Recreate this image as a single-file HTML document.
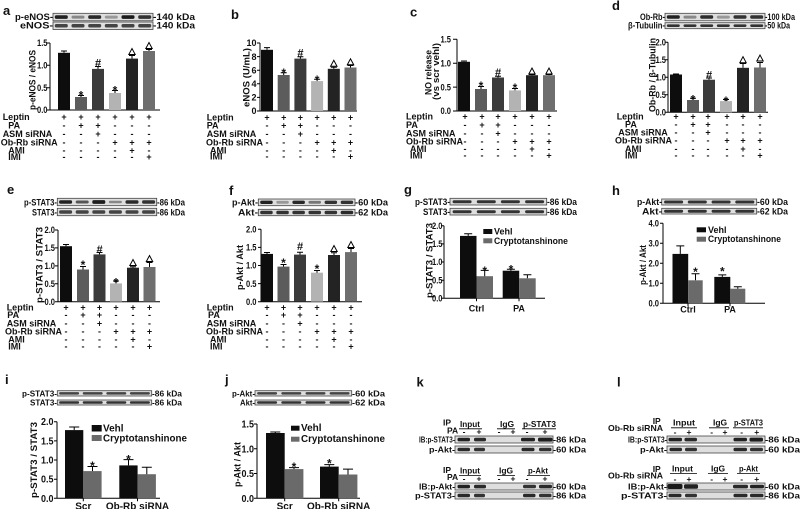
<!DOCTYPE html>
<html><head><meta charset="utf-8"><style>
html,body{margin:0;padding:0;background:#fff}
svg{display:block}
text{font-family:"Liberation Sans",Arial,sans-serif;font-weight:bold;font-size:9px;fill:#111}
.L{font-size:13px}
.e{text-anchor:end}
.m{text-anchor:middle}
.st{font-size:12px;text-anchor:middle}
.hs{font-size:11px;text-anchor:middle}
.yl{font-size:9.5px}
.b10{font-size:10px}
.s85{font-size:8.5px}
.bl{fill:#dedede;stroke:#444;stroke-width:.8}
.ax{stroke:#000;stroke-width:1;fill:none}
.er{stroke:#000;stroke-width:1;fill:none}
.tri{fill:#fff;stroke:#000;stroke-width:1}
.ul{stroke:#000;stroke-width:.8}
</style></head><body>
<svg width="800" height="509" viewBox="0 0 800 509" xmlns="http://www.w3.org/2000/svg">

<!-- ===== Panel a ===== -->
<text class="L" x="3" y="15">a</text>
<rect class="bl" x="53" y="13.3" width="100" height="7.5"/>
<rect class="bl" x="53" y="22" width="100" height="7.5"/>
<rect x="54.8" y="15.3" width="13" height="3.6" rx="1.5" fill="#222"/>
<rect x="71.5" y="15.6" width="13" height="3" rx="1.5" fill="#888"/>
<rect x="88.2" y="15.3" width="13" height="3.6" rx="1.5" fill="#2a2a2a"/>
<rect x="104.8" y="15.6" width="13" height="3" rx="1.5" fill="#999"/>
<rect x="121.5" y="15.3" width="13" height="3.6" rx="1.5" fill="#1a1a1a"/>
<rect x="138.2" y="15.3" width="13" height="3.6" rx="1.5" fill="#333"/>
<rect x="54.8" y="24" width="13" height="3.5" rx="1.5" fill="#444"/>
<rect x="71.5" y="24" width="13" height="3.5" rx="1.5" fill="#444"/>
<rect x="88.2" y="24" width="13" height="3.5" rx="1.5" fill="#444"/>
<rect x="104.8" y="24" width="13" height="3.5" rx="1.5" fill="#444"/>
<rect x="121.5" y="24" width="13" height="3.5" rx="1.5" fill="#444"/>
<rect x="138.2" y="24" width="13" height="3.5" rx="1.5" fill="#444"/>
<text x="15" y="20" textLength="38" lengthAdjust="spacingAndGlyphs">p-eNOS-</text>
<text x="20" y="28.5" textLength="33" lengthAdjust="spacingAndGlyphs">eNOS-</text>
<text x="153" y="20" textLength="42" lengthAdjust="spacingAndGlyphs">-140 kDa</text>
<text x="153" y="28.5" textLength="42" lengthAdjust="spacingAndGlyphs">-140 kDa</text>
<path class="ax" d="M50,43V110H160M47,43H50M47,65.3H50M47,87.7H50M47,110H50"/>
<text x="37" y="46.2" textLength="10.5" lengthAdjust="spacingAndGlyphs">1.5</text>
<text x="37" y="68.5" textLength="10.5" lengthAdjust="spacingAndGlyphs">1.0</text>
<text x="37" y="90.9" textLength="10.5" lengthAdjust="spacingAndGlyphs">0.5</text>
<text x="37" y="113.2" textLength="10.5" lengthAdjust="spacingAndGlyphs">0.0</text>
<rect x="58" y="52.8" width="12" height="57.2" fill="#0d0d0d"/>
<rect x="75" y="97" width="12" height="13" fill="#5c5c5c"/>
<rect x="92" y="68.9" width="12" height="41.1" fill="#3b3b3b"/>
<rect x="109" y="93" width="12" height="17" fill="#b3b3b3"/>
<rect x="126" y="58.6" width="12" height="51.4" fill="#232323"/>
<rect x="143" y="51" width="12" height="59" fill="#6e6e6e"/>
<path class="er" d="M64,52.8V51M61,51H67M81,97V95.5M78,95.5H84M98,68.9V66.5M95,66.5H101M115,93V90.5M112,90.5H118M132,58.6V55.5M129,55.5H135M149,51V49.5M146,49.5H152"/>
<text class="st" x="81" y="99.3">*</text>
<text class="hs" x="98" y="66.5">#</text>
<text class="st" x="115" y="94.3">*</text>
<polygon class="tri" points="128.8,54.5 135.2,54.5 132,48.5"/>
<polygon class="tri" points="145.8,48.5 152.2,48.5 149,42.5"/>
<text class="yl" transform="translate(35.5,110) rotate(-90)" textLength="60" lengthAdjust="spacingAndGlyphs">p-eNOS / eNOS</text>
<text x="2.7" y="120">Leptin</text>
<text x="8.3" y="128.5">PA</text>
<text x="2.7" y="137">ASM siRNA</text>
<text x="0.7" y="145.5">Ob-Rb siRNA</text>
<text x="8.3" y="153.5">AMI</text>
<text x="8.3" y="160">IMI</text>
<text class="m" x="64 81 98 115 132 149" y="120">++++++</text>
<text class="m" x="64 81 98 115 132 149" y="128.5">-++---</text>
<text class="m" x="64 81 98 115 132 149" y="137">--+---</text>
<text class="m" x="64 81 98 115 132 149" y="145.5">---+++</text>
<text class="m" x="64 81 98 115 132 149" y="153.5">----+-</text>
<text class="m" x="64 81 98 115 132 149" y="160">-----+</text>

<!-- ===== Panel b ===== -->
<text class="L" x="231" y="19">b</text>
<path class="ax" d="M260,43V111H357M257,43H260M257,56.6H260M257,70.2H260M257,83.8H260M257,97.4H260M257,111H260"/>
<text class="e" x="256.5" y="46.2">10</text>
<text class="e" x="256.5" y="59.8">8</text>
<text class="e" x="256.5" y="73.4">6</text>
<text class="e" x="256.5" y="87">4</text>
<text class="e" x="256.5" y="100.6">2</text>
<text class="e" x="256.5" y="114.2">0</text>
<rect x="261" y="49.8" width="12" height="61.2" fill="#0d0d0d"/>
<rect x="277.7" y="75" width="12" height="36" fill="#5c5c5c"/>
<rect x="294.4" y="58.6" width="12" height="52.4" fill="#3b3b3b"/>
<rect x="311.1" y="81.1" width="12" height="29.9" fill="#b3b3b3"/>
<rect x="327.8" y="68.8" width="12" height="42.2" fill="#232323"/>
<rect x="344.5" y="67.5" width="12" height="43.5" fill="#6e6e6e"/>
<path class="er" d="M267,49.8V47.6M264,47.6H270M283.7,75V72.8M280.7,72.8H286.7M300.4,58.6V56.8M297.4,56.8H303.4M317.1,81.1V79.2M314.1,79.2H320.1M333.8,68.8V67.3M330.8,67.3H336.8M350.5,67.5V65.5M347.5,65.5H353.5"/>
<text class="st" x="283.7" y="77">*</text>
<text class="hs" x="300.4" y="56.5">#</text>
<text class="st" x="317.1" y="84">*</text>
<polygon class="tri" points="330.6,66.3 337,66.3 333.8,60.3"/>
<polygon class="tri" points="347.3,64.8 353.7,64.8 350.5,58.8"/>
<text class="yl" transform="translate(249.5,107) rotate(-90)" textLength="59" lengthAdjust="spacingAndGlyphs">eNOS (U/mL)</text>
<text x="206.7" y="120.7">Leptin</text>
<text x="206.7" y="128.7">PA</text>
<text x="206.7" y="137">ASM siRNA</text>
<text x="206" y="145.7">Ob-Rb siRNA</text>
<text x="210" y="153.7">AMI</text>
<text x="210" y="159.7">IMI</text>
<text class="m" x="267 283.7 300.4 317.1 333.8 350.5" y="120.7">++++++</text>
<text class="m" x="267 283.7 300.4 317.1 333.8 350.5" y="128.7">-++---</text>
<text class="m" x="267 283.7 300.4 317.1 333.8 350.5" y="137">--+---</text>
<text class="m" x="267 283.7 300.4 317.1 333.8 350.5" y="145.7">---+++</text>
<text class="m" x="267 283.7 300.4 317.1 333.8 350.5" y="153.7">----+-</text>
<text class="m" x="267 283.7 300.4 317.1 333.8 350.5" y="159.7">-----+</text>

<!-- ===== Panel c ===== -->
<text class="L" x="410" y="16.7">c</text>
<path class="ax" d="M457,39.3V111H557M453,39.3H457M453,63.2H457M453,87.1H457M453,111H457"/>
<text x="440.5" y="42.5" textLength="10.5" lengthAdjust="spacingAndGlyphs">1.5</text>
<text x="440.5" y="66.4" textLength="10.5" lengthAdjust="spacingAndGlyphs">1.0</text>
<text x="440.5" y="90.3" textLength="10.5" lengthAdjust="spacingAndGlyphs">0.5</text>
<text x="440.5" y="114.2" textLength="10.5" lengthAdjust="spacingAndGlyphs">0.0</text>
<rect x="458" y="61.8" width="12" height="49.2" fill="#0d0d0d"/>
<rect x="475" y="89" width="12" height="22" fill="#5c5c5c"/>
<rect x="492" y="77.5" width="12" height="33.5" fill="#3b3b3b"/>
<rect x="509" y="90.4" width="12" height="20.6" fill="#b3b3b3"/>
<rect x="526" y="75.2" width="12" height="35.8" fill="#232323"/>
<rect x="543" y="75.2" width="12" height="35.8" fill="#6e6e6e"/>
<path class="er" d="M464,61.8V61M461,61H467M481,89V86.5M478,86.5H484M498,77.5V76.3M495,76.3H501M515,90.4V88.5M512,88.5H518M532,75.2V74.5M529,74.5H535M549,75.2V74.5M546,74.5H552"/>
<text class="st" x="481" y="89.8">*</text>
<text class="hs" x="498" y="76">#</text>
<text class="st" x="515" y="92">*</text>
<polygon class="tri" points="528.8,74 535.2,74 532,68"/>
<polygon class="tri" points="545.8,74 552.2,74 549,68"/>
<text class="yl" transform="translate(431.3,95) rotate(-90)" textLength="45" lengthAdjust="spacingAndGlyphs">NO release</text>
<text class="yl" transform="translate(439,100) rotate(-90)" textLength="57" lengthAdjust="spacingAndGlyphs">(vs scr vehl)</text>
<text x="406" y="119.7">Leptin</text>
<text x="406" y="128">PA</text>
<text x="406" y="136.3">ASM siRNA</text>
<text x="406" y="144.7">Ob-Rb siRNA</text>
<text x="410" y="152">AMI</text>
<text x="410" y="158.7">IMI</text>
<text class="m" x="465 482 498 515 532 549" y="119.7">++++++</text>
<text class="m" x="465 482 498 515 532 549" y="128">-++---</text>
<text class="m" x="465 482 498 515 532 549" y="136.3">--+---</text>
<text class="m" x="465 482 498 515 532 549" y="144.7">---+++</text>
<text class="m" x="465 482 498 515 532 549" y="152">----+-</text>
<text class="m" x="465 482 498 515 532 549" y="158.7">-----+</text>

<!-- ===== Panel d ===== -->
<text class="L" x="612" y="10">d</text>
<rect class="bl" x="665" y="13.3" width="100" height="7.5"/>
<rect class="bl" x="665" y="22.7" width="100" height="6"/>
<rect x="666.8" y="15.3" width="13" height="3.5" rx="1.5" fill="#222"/>
<rect x="683.5" y="15.6" width="13" height="3" rx="1.5" fill="#888"/>
<rect x="700.2" y="15.3" width="13" height="3.5" rx="1.5" fill="#2e2e2e"/>
<rect x="716.8" y="15.6" width="13" height="3" rx="1.5" fill="#999"/>
<rect x="733.5" y="15.3" width="13" height="3.5" rx="1.5" fill="#333"/>
<rect x="750.2" y="15.3" width="13" height="3.5" rx="1.5" fill="#333"/>
<rect x="666.8" y="24.4" width="13" height="2.6" rx="1.2" fill="#333"/>
<rect x="683.5" y="24.4" width="13" height="2.6" rx="1.2" fill="#333"/>
<rect x="700.2" y="24.4" width="13" height="2.6" rx="1.2" fill="#333"/>
<rect x="716.8" y="24.4" width="13" height="2.6" rx="1.2" fill="#333"/>
<rect x="733.5" y="24.4" width="13" height="2.6" rx="1.2" fill="#333"/>
<rect x="750.2" y="24.4" width="13" height="2.6" rx="1.2" fill="#333"/>
<text x="640" y="20" textLength="25" lengthAdjust="spacingAndGlyphs">Ob-Rb-</text>
<text x="628" y="28.5" textLength="37" lengthAdjust="spacingAndGlyphs">β-Tubulin-</text>
<text x="765" y="20" textLength="30" lengthAdjust="spacingAndGlyphs">-100 kDa</text>
<text x="765" y="28.5" textLength="25" lengthAdjust="spacingAndGlyphs">-50 kDa</text>
<path class="ax" d="M668,42.3V112.3H768M665,42.3H668M665,59.8H668M665,77.3H668M665,94.8H668M665,112.3H668"/>
<text x="655.5" y="45.5" textLength="10.5" lengthAdjust="spacingAndGlyphs">2.0</text>
<text x="655.5" y="63" textLength="10.5" lengthAdjust="spacingAndGlyphs">1.5</text>
<text x="655.5" y="80.5" textLength="10.5" lengthAdjust="spacingAndGlyphs">1.0</text>
<text x="655.5" y="98" textLength="10.5" lengthAdjust="spacingAndGlyphs">0.5</text>
<text x="655.5" y="115.5" textLength="10.5" lengthAdjust="spacingAndGlyphs">0.0</text>
<rect x="670" y="74.5" width="12" height="37.8" fill="#0d0d0d"/>
<rect x="687" y="100" width="12" height="12.3" fill="#5c5c5c"/>
<rect x="703" y="79.7" width="12" height="32.6" fill="#3b3b3b"/>
<rect x="720" y="101.1" width="12" height="11.2" fill="#b3b3b3"/>
<rect x="737" y="67.8" width="12" height="44.5" fill="#232323"/>
<rect x="754" y="67.5" width="12" height="44.8" fill="#6e6e6e"/>
<path class="er" d="M676,74.5V74M673,74H679M693,100V98.3M690,98.3H696M709,79.7V78M706,78H712M726,101.1V99.5M723,99.5H729M743,67.8V63.5M740,63.5H746M760,67.5V62.5M757,62.5H763"/>
<text class="st" x="693" y="103.7">*</text>
<text class="hs" x="709" y="78.3">#</text>
<text class="st" x="726" y="105">*</text>
<polygon class="tri" points="739.8,62.7 746.2,62.7 743,56.7"/>
<polygon class="tri" points="756.8,61 763.2,61 760,55"/>
<text class="yl" transform="translate(655.5,112) rotate(-90)" textLength="74" lengthAdjust="spacingAndGlyphs">Ob-Rb / β-Tubulin</text>
<text x="616.7" y="119.7">Leptin</text>
<text x="625" y="127.3">PA</text>
<text x="618.3" y="135.7">ASM siRNA</text>
<text x="615" y="143.7">Ob-Rb siRNA</text>
<text x="625" y="152">AMI</text>
<text x="625" y="158.7">IMI</text>
<text class="m" x="676 693 708 727 743 760" y="119.7">++++++</text>
<text class="m" x="676 693 708 727 743 760" y="127.3">-++---</text>
<text class="m" x="676 693 708 727 743 760" y="135.7">--+---</text>
<text class="m" x="676 693 708 727 743 760" y="143.7">---+++</text>
<text class="m" x="676 693 708 727 743 760" y="152">----+-</text>
<text class="m" x="676 693 708 727 743 760" y="158.7">-----+</text>

<!-- ===== Panel e ===== -->
<text class="L" x="7" y="194">e</text>
<rect class="bl" x="57.3" y="198.3" width="99.4" height="7.4"/>
<rect class="bl" x="57.3" y="208.3" width="99.4" height="7.4"/>
<rect x="59.1" y="200.3" width="13" height="3.4" rx="1.5" fill="#222"/>
<rect x="75.7" y="200.5" width="13" height="3" rx="1.5" fill="#555"/>
<rect x="92.3" y="200.1" width="13" height="3.8" rx="1.5" fill="#1e1e1e"/>
<rect x="108.9" y="200.7" width="13" height="2.6" rx="1.2" fill="#888"/>
<rect x="125.5" y="200.3" width="13" height="3.4" rx="1.5" fill="#2a2a2a"/>
<rect x="142.1" y="200.3" width="13" height="3.4" rx="1.5" fill="#333"/>
<rect x="59.1" y="210.3" width="13" height="3.4" rx="1.5" fill="#444"/>
<rect x="75.7" y="210.3" width="13" height="3.4" rx="1.5" fill="#444"/>
<rect x="92.3" y="210.3" width="13" height="3.4" rx="1.5" fill="#444"/>
<rect x="108.9" y="210.3" width="13" height="3.4" rx="1.5" fill="#444"/>
<rect x="125.5" y="210.3" width="13" height="3.4" rx="1.5" fill="#444"/>
<rect x="142.1" y="210.3" width="13" height="3.4" rx="1.5" fill="#444"/>
<text x="24" y="205.3" textLength="33" lengthAdjust="spacingAndGlyphs">p-STAT3-</text>
<text x="32" y="215.3" textLength="25" lengthAdjust="spacingAndGlyphs">STAT3-</text>
<text x="157" y="205.3" textLength="28" lengthAdjust="spacingAndGlyphs">-86 kDa</text>
<text x="157" y="215.3" textLength="28" lengthAdjust="spacingAndGlyphs">-86 kDa</text>
<path class="ax" d="M58,230V301.7H160M55,230H58M55,247.9H58M55,265.9H58M55,283.8H58M55,301.7H58"/>
<text x="44.5" y="233.2" textLength="10.5" lengthAdjust="spacingAndGlyphs">2.0</text>
<text x="44.5" y="251.1" textLength="10.5" lengthAdjust="spacingAndGlyphs">1.5</text>
<text x="44.5" y="269.1" textLength="10.5" lengthAdjust="spacingAndGlyphs">1.0</text>
<text x="44.5" y="287" textLength="10.5" lengthAdjust="spacingAndGlyphs">0.5</text>
<text x="44.5" y="304.9" textLength="10.5" lengthAdjust="spacingAndGlyphs">0.0</text>
<rect x="60" y="246.2" width="12" height="55.5" fill="#0d0d0d"/>
<rect x="77" y="269.5" width="12" height="32.2" fill="#5c5c5c"/>
<rect x="93.5" y="254.4" width="12" height="47.3" fill="#3b3b3b"/>
<rect x="110" y="283.4" width="12" height="18.3" fill="#b3b3b3"/>
<rect x="127" y="267.7" width="12" height="34" fill="#232323"/>
<rect x="143.5" y="267" width="12" height="34.7" fill="#6e6e6e"/>
<path class="er" d="M66,246.2V244.5M63,244.5H69M83,269.5V266.5M80,266.5H86M99.5,254.4V252.5M96.5,252.5H102.5M116,283.4V281M113,281H119M133,267.7V266.8M130,266.8H136M149.5,267V262.5M146.5,262.5H152.5"/>
<text class="st" x="83" y="269">*</text>
<text class="hs" x="99.5" y="252.8">#</text>
<text class="st" x="116" y="286.5">*</text>
<polygon class="tri" points="129.8,265.5 136.2,265.5 133,259.5"/>
<polygon class="tri" points="146.3,261.5 152.7,261.5 149.5,255.5"/>
<text class="yl" transform="translate(42.5,303) rotate(-90)" textLength="76" lengthAdjust="spacingAndGlyphs">p-STAT3 / STAT3</text>
<text x="6.7" y="310.7">Leptin</text>
<text x="7.3" y="318">PA</text>
<text x="6.7" y="326.3">ASM siRNA</text>
<text x="5" y="334.7">Ob-Rb siRNA</text>
<text x="8.3" y="342.3">AMI</text>
<text x="8.3" y="349.7">IMI</text>
<text class="m" x="66 83 99.5 116 133 149.5" y="310.7">++++++</text>
<text class="m" x="66 83 99.5 116 133 149.5" y="318">-++---</text>
<text class="m" x="66 83 99.5 116 133 149.5" y="326.3">--+---</text>
<text class="m" x="66 83 99.5 116 133 149.5" y="334.7">---+++</text>
<text class="m" x="66 83 99.5 116 133 149.5" y="342.3">----+-</text>
<text class="m" x="66 83 99.5 116 133 149.5" y="349.7">-----+</text>

<!-- ===== Panel f ===== -->
<text class="L" x="229" y="195">f</text>
<rect class="bl" x="258.3" y="199" width="96.7" height="6.7"/>
<rect class="bl" x="258.3" y="209.3" width="96.7" height="6.4"/>
<rect x="260.2" y="200.6" width="12.5" height="3.4" rx="1.5" fill="#222"/>
<rect x="276.3" y="200.9" width="12.5" height="2.8" rx="1.2" fill="#999"/>
<rect x="292.4" y="200.6" width="12.5" height="3.4" rx="1.5" fill="#2a2a2a"/>
<rect x="308.5" y="200.9" width="12.5" height="2.8" rx="1.2" fill="#777"/>
<rect x="324.6" y="200.6" width="12.5" height="3.4" rx="1.5" fill="#333"/>
<rect x="340.7" y="200.6" width="12.5" height="3.4" rx="1.5" fill="#333"/>
<rect x="260.2" y="210.8" width="12.5" height="3.4" rx="1.5" fill="#333"/>
<rect x="276.3" y="210.8" width="12.5" height="3.4" rx="1.5" fill="#333"/>
<rect x="292.4" y="210.8" width="12.5" height="3.4" rx="1.5" fill="#333"/>
<rect x="308.5" y="210.8" width="12.5" height="3.4" rx="1.5" fill="#333"/>
<rect x="324.6" y="210.8" width="12.5" height="3.4" rx="1.5" fill="#333"/>
<rect x="340.7" y="210.8" width="12.5" height="3.4" rx="1.5" fill="#2a2a2a"/>
<text x="232" y="205.5" textLength="26" lengthAdjust="spacingAndGlyphs">p-Akt-</text>
<text x="238" y="215.5" textLength="20" lengthAdjust="spacingAndGlyphs">Akt-</text>
<text x="355" y="205.5" textLength="33" lengthAdjust="spacingAndGlyphs">-60 kDa</text>
<text x="355" y="215.5" textLength="33" lengthAdjust="spacingAndGlyphs">-62 kDa</text>
<path class="ax" d="M261,229.3V301.7H362M258,229.3H261M258,247.4H261M258,265.5H261M258,283.6H261M258,301.7H261"/>
<text x="246" y="232.5" textLength="10.5" lengthAdjust="spacingAndGlyphs">2.0</text>
<text x="246" y="250.6" textLength="10.5" lengthAdjust="spacingAndGlyphs">1.5</text>
<text x="246" y="268.7" textLength="10.5" lengthAdjust="spacingAndGlyphs">1.0</text>
<text x="246" y="286.8" textLength="10.5" lengthAdjust="spacingAndGlyphs">0.5</text>
<text x="246" y="304.9" textLength="10.5" lengthAdjust="spacingAndGlyphs">0.0</text>
<rect x="261" y="253.9" width="12" height="47.8" fill="#0d0d0d"/>
<rect x="277.5" y="266.6" width="12" height="35.1" fill="#5c5c5c"/>
<rect x="294" y="254.6" width="12" height="47.1" fill="#3b3b3b"/>
<rect x="311" y="272.7" width="12" height="29" fill="#b3b3b3"/>
<rect x="328" y="255" width="12" height="46.7" fill="#232323"/>
<rect x="345" y="252.1" width="12" height="49.6" fill="#6e6e6e"/>
<path class="er" d="M267,253.9V252.5M264,252.5H270M283.5,266.6V264.5M280.5,264.5H286.5M300,254.6V252.3M297,252.3H303M317,272.7V270.5M314,270.5H320M334,255V252.8M331,252.8H337M351,252.1V248.5M348,248.5H354"/>
<text class="st" x="283.5" y="267">*</text>
<text class="hs" x="300" y="250">#</text>
<text class="st" x="317" y="273">*</text>
<polygon class="tri" points="330.8,251.5 337.2,251.5 334,245.5"/>
<polygon class="tri" points="347.8,247.5 354.2,247.5 351,241.5"/>
<text class="yl" transform="translate(243,290) rotate(-90)" textLength="45" lengthAdjust="spacingAndGlyphs">p-Akt / Akt</text>
<text x="206.7" y="310.7">Leptin</text>
<text x="208" y="318">PA</text>
<text x="206.7" y="326.3">ASM siRNA</text>
<text x="206" y="334.7">Ob-Rb siRNA</text>
<text x="210" y="342.3">AMI</text>
<text x="210" y="349.7">IMI</text>
<text class="m" x="267 283.5 300 317 334 351" y="310.7">++++++</text>
<text class="m" x="267 283.5 300 317 334 351" y="318">-++---</text>
<text class="m" x="267 283.5 300 317 334 351" y="326.3">--+---</text>
<text class="m" x="267 283.5 300 317 334 351" y="334.7">---+++</text>
<text class="m" x="267 283.5 300 317 334 351" y="342.3">----+-</text>
<text class="m" x="267 283.5 300 317 334 351" y="349.7">-----+</text>

<!-- ===== Panel g ===== -->
<text class="L" x="404" y="194">g</text>
<rect class="bl" x="450" y="198.3" width="96.7" height="6.7"/>
<rect class="bl" x="450" y="208.3" width="96.7" height="6.7"/>
<rect x="452.6" y="200.2" width="19" height="3" rx="1.4" fill="#333"/>
<rect x="476.8" y="200.2" width="19" height="3" rx="1.4" fill="#333"/>
<rect x="500.9" y="200.2" width="19" height="3" rx="1.4" fill="#333"/>
<rect x="525.1" y="200.2" width="19" height="3" rx="1.4" fill="#333"/>
<rect x="452.6" y="210.2" width="19" height="3" rx="1.4" fill="#333"/>
<rect x="476.8" y="210.2" width="19" height="3" rx="1.4" fill="#333"/>
<rect x="500.9" y="210.2" width="19" height="3" rx="1.4" fill="#333"/>
<rect x="525.1" y="210.2" width="19" height="3" rx="1.4" fill="#333"/>
<text x="415" y="205" textLength="35" lengthAdjust="spacingAndGlyphs">p-STAT3-</text>
<text x="423" y="215" textLength="27" lengthAdjust="spacingAndGlyphs">STAT3-</text>
<text x="547" y="205" textLength="30" lengthAdjust="spacingAndGlyphs">-86 kDa</text>
<text x="547" y="215" textLength="30" lengthAdjust="spacingAndGlyphs">-86 kDa</text>
<path class="ax" d="M444,225.7V298.3H545M441,225.7H444M441,243.9H444M441,262H444M441,280.2H444M441,298.3H444M476.5,298.3V301.3M519,298.3V301.3"/>
<text x="432" y="228.9" textLength="10.5" lengthAdjust="spacingAndGlyphs">2.0</text>
<text x="432" y="247.1" textLength="10.5" lengthAdjust="spacingAndGlyphs">1.5</text>
<text x="432" y="265.2" textLength="10.5" lengthAdjust="spacingAndGlyphs">1.0</text>
<text x="432" y="283.4" textLength="10.5" lengthAdjust="spacingAndGlyphs">0.5</text>
<text x="432" y="301.5" textLength="10.5" lengthAdjust="spacingAndGlyphs">0.0</text>
<rect x="460" y="235.9" width="16.5" height="62.4" fill="#0d0d0d"/>
<rect x="476.5" y="276.2" width="16.5" height="22.1" fill="#6a6a6a"/>
<rect x="502.7" y="270.7" width="16.5" height="27.6" fill="#0d0d0d"/>
<rect x="519.2" y="278.3" width="16.5" height="20" fill="#6a6a6a"/>
<path class="er" d="M468.2,235.9V233.7M464.2,233.7H472.2M484.7,276.2V270.4M480.7,270.4H488.7M510.9,270.7V269.3M506.9,269.3H514.9M527.4,278.3V274.7M523.4,274.7H531.4"/>
<text class="st" x="484.7" y="275.2">*</text>
<text class="st" x="510.9" y="273.7">*</text>
<rect x="483.3" y="229" width="9" height="5" fill="#0d0d0d"/>
<text x="494" y="234.5">Vehl</text>
<rect x="483.3" y="238.3" width="9" height="5" fill="#6a6a6a"/>
<text x="494" y="243.8" textLength="74" lengthAdjust="spacingAndGlyphs">Cryptotanshinone</text>
<text class="m" x="476.5" y="311.5">Ctrl</text>
<text class="m" x="519" y="311.5">PA</text>
<text class="yl" transform="translate(432.5,298) rotate(-90)" textLength="75" lengthAdjust="spacingAndGlyphs">p-STAT3 / STAT3</text>

<!-- ===== Panel h ===== -->
<text class="L" x="612" y="195">h</text>
<rect class="bl" x="661.7" y="199" width="95" height="6"/>
<rect class="bl" x="661.7" y="208.3" width="95" height="5.7"/>
<rect x="664.1" y="200.5" width="19" height="3" rx="1.4" fill="#333"/>
<rect x="687.8" y="200.5" width="19" height="3" rx="1.4" fill="#333"/>
<rect x="711.6" y="200.5" width="19" height="3" rx="1.4" fill="#333"/>
<rect x="735.3" y="200.5" width="19" height="3" rx="1.4" fill="#333"/>
<rect x="664.1" y="209.7" width="19" height="3" rx="1.4" fill="#333"/>
<rect x="687.8" y="209.7" width="19" height="3" rx="1.4" fill="#333"/>
<rect x="711.6" y="209.7" width="19" height="3" rx="1.4" fill="#333"/>
<rect x="735.3" y="209.7" width="19" height="3" rx="1.4" fill="#333"/>
<text x="637" y="205" textLength="25" lengthAdjust="spacingAndGlyphs">p-Akt-</text>
<text x="642" y="214.5" textLength="20" lengthAdjust="spacingAndGlyphs">Akt-</text>
<text x="757" y="205" textLength="31" lengthAdjust="spacingAndGlyphs">-60 kDa</text>
<text x="757" y="214.5" textLength="31" lengthAdjust="spacingAndGlyphs">-62 kDa</text>
<path class="ax" d="M663,223.3V303.3H765M660,223.3H663M660,243.3H663M660,263.3H663M660,283.3H663M660,303.3H663M688,303.3V306.3M730,303.3V306.3"/>
<text x="648.5" y="226.5" textLength="10.5" lengthAdjust="spacingAndGlyphs">4.0</text>
<text x="648.5" y="246.5" textLength="10.5" lengthAdjust="spacingAndGlyphs">3.0</text>
<text x="648.5" y="266.5" textLength="10.5" lengthAdjust="spacingAndGlyphs">2.0</text>
<text x="648.5" y="286.5" textLength="10.5" lengthAdjust="spacingAndGlyphs">1.0</text>
<text x="648.5" y="306.5" textLength="10.5" lengthAdjust="spacingAndGlyphs">0.0</text>
<rect x="672.5" y="253.9" width="15.7" height="49.4" fill="#0d0d0d"/>
<rect x="688.2" y="280.3" width="14.5" height="23" fill="#6a6a6a"/>
<rect x="714.3" y="276.9" width="16" height="26.4" fill="#0d0d0d"/>
<rect x="730.3" y="288.7" width="15" height="14.6" fill="#6a6a6a"/>
<path class="er" d="M680.3,253.9V245.9M676.3,245.9H684.3M695.5,280.3V273.7M691.5,273.7H699.5M722.3,276.9V274.9M718.3,274.9H726.3M737.8,288.7V286.7M733.8,286.7H741.8"/>
<text class="st" x="695.5" y="276">*</text>
<text class="st" x="722.3" y="275.3">*</text>
<rect x="696.7" y="227.3" width="9.3" height="5" fill="#0d0d0d"/>
<text x="708" y="233">Vehl</text>
<rect x="696.7" y="236.7" width="9.3" height="5" fill="#6a6a6a"/>
<text x="708" y="242.2" textLength="73" lengthAdjust="spacingAndGlyphs">Cryptotanshinone</text>
<text class="m" x="688" y="312.5">Ctrl</text>
<text class="m" x="730" y="312.5">PA</text>
<text class="yl" transform="translate(646,285) rotate(-90)" textLength="40" lengthAdjust="spacingAndGlyphs">p-Akt / Akt</text>

<!-- ===== Panel i ===== -->
<text class="L" x="5" y="384">i</text>
<rect class="bl" x="57.3" y="390.7" width="94.4" height="5.3"/>
<rect class="bl" x="57.3" y="400" width="94.4" height="5"/>
<rect x="59.1" y="392.1" width="20" height="2.5" rx="1.2" fill="#444"/>
<rect x="82.7" y="392.1" width="20" height="2.5" rx="1.2" fill="#444"/>
<rect x="106.3" y="392.1" width="20" height="2.5" rx="1.2" fill="#444"/>
<rect x="129.9" y="392.1" width="20" height="2.5" rx="1.2" fill="#444"/>
<rect x="59.1" y="401.3" width="20" height="2.5" rx="1.2" fill="#333"/>
<rect x="82.7" y="401.3" width="20" height="2.5" rx="1.2" fill="#333"/>
<rect x="106.3" y="401.3" width="20" height="2.5" rx="1.2" fill="#333"/>
<rect x="129.9" y="401.3" width="20" height="2.5" rx="1.2" fill="#333"/>
<text class="s85" x="22" y="396.3" textLength="35" lengthAdjust="spacingAndGlyphs">p-STAT3-</text>
<text class="s85" x="30" y="405.3" textLength="27" lengthAdjust="spacingAndGlyphs">STAT3-</text>
<text class="s85" x="152" y="396.3" textLength="30" lengthAdjust="spacingAndGlyphs">-86 kDa</text>
<text class="s85" x="152" y="405.3" textLength="30" lengthAdjust="spacingAndGlyphs">-86 kDa</text>
<path class="ax" d="M57,421.7V498.3H160M54,421.7H57M54,440.9H57M54,460H57M54,479.2H57M54,498.3H57M83.3,498.3V501.3M137.5,498.3V501.3"/>
<text class="b10" x="41" y="425.2" textLength="12.5" lengthAdjust="spacingAndGlyphs">2.0</text>
<text class="b10" x="41" y="444.4" textLength="12.5" lengthAdjust="spacingAndGlyphs">1.5</text>
<text class="b10" x="41" y="463.5" textLength="12.5" lengthAdjust="spacingAndGlyphs">1.0</text>
<text class="b10" x="41" y="482.7" textLength="12.5" lengthAdjust="spacingAndGlyphs">0.5</text>
<text class="b10" x="41" y="501.8" textLength="12.5" lengthAdjust="spacingAndGlyphs">0.0</text>
<rect x="65" y="430.1" width="18.3" height="68.2" fill="#0d0d0d"/>
<rect x="83.3" y="471.1" width="18.3" height="27.2" fill="#6a6a6a"/>
<rect x="119.3" y="465.4" width="18.3" height="32.9" fill="#0d0d0d"/>
<rect x="137.6" y="474.2" width="18.3" height="24.1" fill="#6a6a6a"/>
<path class="er" d="M74.2,430.1V427M69.2,427H79.2M92.5,471.1V466.5M87.5,466.5H97.5M128.5,465.4V459.6M123.5,459.6H133.5M146.8,474.2V467.3M141.8,467.3H151.8"/>
<text class="st" x="92.5" y="470">*</text>
<text class="st" x="128.5" y="463.3">*</text>
<rect x="91.7" y="425" width="10" height="6.5" fill="#0d0d0d"/>
<text class="b10" x="103" y="431.5">Vehl</text>
<rect x="91.7" y="435" width="10" height="6" fill="#6a6a6a"/>
<text class="b10" x="103" y="441.5" textLength="84" lengthAdjust="spacingAndGlyphs">Cryptotanshinone</text>
<text class="m b10" x="83.3" y="509.5">Scr</text>
<text class="m b10" x="137.5" y="509.5">Ob-Rb siRNA</text>
<text class="yl" transform="translate(37,498) rotate(-90)" textLength="76" lengthAdjust="spacingAndGlyphs">p-STAT3 / STAT3</text>

<!-- ===== Panel j ===== -->
<text class="L" x="225" y="384">j</text>
<rect class="bl" x="255" y="390.7" width="96.7" height="5.3"/>
<rect class="bl" x="255" y="400" width="96.7" height="5"/>
<rect x="257.1" y="392.1" width="20" height="2.5" rx="1.2" fill="#444"/>
<rect x="281.3" y="392.1" width="20" height="2.5" rx="1.2" fill="#444"/>
<rect x="305.5" y="392.1" width="20" height="2.5" rx="1.2" fill="#444"/>
<rect x="329.6" y="392.1" width="20" height="2.5" rx="1.2" fill="#444"/>
<rect x="257.1" y="401.3" width="20" height="2.5" rx="1.2" fill="#333"/>
<rect x="281.3" y="401.3" width="20" height="2.5" rx="1.2" fill="#333"/>
<rect x="305.5" y="401.3" width="20" height="2.5" rx="1.2" fill="#333"/>
<rect x="329.6" y="401.3" width="20" height="2.5" rx="1.2" fill="#333"/>
<text class="s85" x="232" y="396.3" textLength="23" lengthAdjust="spacingAndGlyphs">p-Akt-</text>
<text class="s85" x="240" y="405.3" textLength="15" lengthAdjust="spacingAndGlyphs">Akt-</text>
<text class="s85" x="352" y="396.3" textLength="33" lengthAdjust="spacingAndGlyphs">-60 kDa</text>
<text class="s85" x="352" y="405.3" textLength="33" lengthAdjust="spacingAndGlyphs">-62 kDa</text>
<path class="ax" d="M257,424V498.3H360M254,424H257M254,448.8H257M254,473.5H257M254,498.3H257M284.7,498.3V501.3M338.7,498.3V501.3"/>
<text class="b10" x="241.5" y="427.5" textLength="12.5" lengthAdjust="spacingAndGlyphs">1.5</text>
<text class="b10" x="241.5" y="452.3" textLength="12.5" lengthAdjust="spacingAndGlyphs">1.0</text>
<text class="b10" x="241.5" y="477" textLength="12.5" lengthAdjust="spacingAndGlyphs">0.5</text>
<text class="b10" x="241.5" y="501.8" textLength="12.5" lengthAdjust="spacingAndGlyphs">0.0</text>
<rect x="266" y="433" width="18.7" height="65.3" fill="#0d0d0d"/>
<rect x="284.7" y="469.1" width="18.7" height="29.2" fill="#6a6a6a"/>
<rect x="320" y="466.6" width="18.7" height="31.7" fill="#0d0d0d"/>
<rect x="338.7" y="474.5" width="18.7" height="23.8" fill="#6a6a6a"/>
<path class="er" d="M275.3,433V432M270.3,432H280.3M294,469.1V467.6M289,467.6H299M329.3,466.6V464.6M324.3,464.6H334.3M348,474.5V469.1M343,469.1H353"/>
<text class="st" x="294" y="471">*</text>
<text class="st" x="329.3" y="467.7">*</text>
<rect x="291" y="425.7" width="8.5" height="5" fill="#0d0d0d"/>
<text class="b10" x="301" y="431">Vehl</text>
<rect x="291" y="436.7" width="8.5" height="5" fill="#6a6a6a"/>
<text class="b10" x="301" y="442" textLength="84" lengthAdjust="spacingAndGlyphs">Cryptotanshinone</text>
<text class="m b10" x="284.7" y="509.5">Scr</text>
<text class="m b10" x="338.7" y="509.5">Ob-Rb siRNA</text>
<text class="yl" transform="translate(240.5,487) rotate(-90)" textLength="45" lengthAdjust="spacingAndGlyphs">p-Akt / Akt</text>

<!-- ===== Panel k ===== -->
<text class="L" x="416.5" y="386.7">k</text>
<text class="s85" x="443" y="425.7">IP</text>
<text class="s85" x="460" y="426.8" textLength="20" lengthAdjust="spacingAndGlyphs">Input</text>
<text class="s85" x="500" y="426.8">IgG</text>
<text class="s85" x="523" y="426.8" textLength="33" lengthAdjust="spacingAndGlyphs">p-STAT3</text>
<path class="ul" d="M459,428.8H482M497,428.8H515M522,428.8H556"/>
<text class="s85" x="447" y="433.5">PA</text>
<text class="m s85" x="464 479 499 513 527 545" y="434.5">-+-+-+</text>
<rect class="bl" x="455" y="436" width="98" height="7"/>
<rect class="bl" x="455" y="446" width="98" height="7"/>
<rect x="457.5" y="437.8" width="12.5" height="3.6" rx="1.5" fill="#222"/>
<rect x="474" y="437.8" width="12" height="3.6" rx="1.5" fill="#2a2a2a"/>
<rect x="521" y="437.8" width="14" height="3.6" rx="1.5" fill="#222"/>
<rect x="538" y="437.6" width="14.5" height="4" rx="1.5" fill="#1e1e1e"/>
<rect x="457.5" y="447.8" width="12.5" height="3.4" rx="1.5" fill="#2a2a2a"/>
<rect x="474" y="447.8" width="11" height="3.4" rx="1.5" fill="#333"/>
<rect x="521.5" y="447.8" width="13" height="3.4" rx="1.5" fill="#2a2a2a"/>
<rect x="539" y="447.8" width="12.5" height="3.4" rx="1.5" fill="#333"/>
<text class="s85" x="419" y="442.5" textLength="36" lengthAdjust="spacingAndGlyphs">IB:p-STAT3-</text>
<text class="s85" x="429" y="452.5" textLength="26" lengthAdjust="spacingAndGlyphs">p-Akt-</text>
<text class="s85" x="553" y="442.5" textLength="33" lengthAdjust="spacingAndGlyphs">-86 kDa</text>
<text class="s85" x="553" y="452.5" textLength="33" lengthAdjust="spacingAndGlyphs">-60 kDa</text>
<text class="s85" x="443" y="473">IP</text>
<text class="s85" x="460" y="473.5" textLength="20" lengthAdjust="spacingAndGlyphs">Input</text>
<text class="s85" x="499" y="473.5">IgG</text>
<text class="s85" x="528" y="473.5" textLength="20" lengthAdjust="spacingAndGlyphs">p-Akt</text>
<path class="ul" d="M459,475.5H481M497,475.5H515M527,475.5H550"/>
<text class="s85" x="447" y="480">PA</text>
<text class="m s85" x="464 479 499 513 527 545" y="481.5">-+-+-+</text>
<rect class="bl" x="455" y="483" width="98" height="7"/>
<rect class="bl" x="455" y="492" width="98" height="7"/>
<rect x="457.5" y="484.8" width="12.5" height="3.6" rx="1.5" fill="#222"/>
<rect x="474" y="484.8" width="12" height="3.6" rx="1.5" fill="#2a2a2a"/>
<rect x="523" y="484.8" width="13" height="3.4" rx="1.5" fill="#333"/>
<rect x="539" y="484.8" width="13" height="3.6" rx="1.5" fill="#2a2a2a"/>
<rect x="457.5" y="493.8" width="12.5" height="3.4" rx="1.5" fill="#2a2a2a"/>
<rect x="474" y="493.8" width="11" height="3.4" rx="1.5" fill="#333"/>
<rect x="523" y="493.8" width="12.5" height="3.4" rx="1.5" fill="#2a2a2a"/>
<rect x="539" y="493.8" width="12.5" height="3.4" rx="1.5" fill="#333"/>
<text class="s85" x="419" y="489.5" textLength="36" lengthAdjust="spacingAndGlyphs">IB:p-Akt-</text>
<text class="s85" x="415" y="498.5" textLength="40" lengthAdjust="spacingAndGlyphs">p-STAT3-</text>
<text class="s85" x="553" y="489.5" textLength="33" lengthAdjust="spacingAndGlyphs">-60 kDa</text>
<text class="s85" x="553" y="498.5" textLength="33" lengthAdjust="spacingAndGlyphs">-86 kDa</text>

<!-- ===== Panel l ===== -->
<text class="L" x="617" y="386.5">l</text>
<text class="s85" x="652.7" y="424">IP</text>
<text class="s85" x="608" y="431" textLength="55" lengthAdjust="spacingAndGlyphs">Ob-Rb siRNA</text>
<text class="s85" x="673" y="425.7" textLength="22" lengthAdjust="spacingAndGlyphs">Input</text>
<text class="s85" x="713" y="425.7">IgG</text>
<text class="s85" x="734" y="425.7" textLength="29" lengthAdjust="spacingAndGlyphs">p-STAT3</text>
<path class="ul" d="M671,427.8H697M709,427.8H729M733,427.8H763"/>
<text class="m s85" x="675 689 711.7 725 741.7 756.7" y="435">-+-+-+</text>
<rect class="bl" x="667" y="436" width="98" height="7"/>
<rect class="bl" x="667" y="446" width="98" height="7"/>
<rect x="668.5" y="437.8" width="13.5" height="3.6" rx="1.5" fill="#222"/>
<rect x="684.5" y="437.8" width="12.5" height="3.6" rx="1.5" fill="#2a2a2a"/>
<rect x="733.5" y="437.8" width="13.5" height="3.6" rx="1.5" fill="#222"/>
<rect x="749.5" y="437.6" width="13.5" height="4" rx="1.5" fill="#1e1e1e"/>
<rect x="669.5" y="447.8" width="12.5" height="3.4" rx="1.5" fill="#2a2a2a"/>
<rect x="685" y="447.8" width="12" height="3.4" rx="1.5" fill="#333"/>
<rect x="733.5" y="447.8" width="13.5" height="3.4" rx="1.5" fill="#2a2a2a"/>
<rect x="750" y="447.8" width="13" height="3.4" rx="1.5" fill="#333"/>
<text class="s85" x="628" y="442.5" textLength="39" lengthAdjust="spacingAndGlyphs">IB:p-STAT3-</text>
<text class="s85" x="640" y="452.5" textLength="27" lengthAdjust="spacingAndGlyphs">p-Akt-</text>
<text class="s85" x="765" y="442.5" textLength="35" lengthAdjust="spacingAndGlyphs">-86 kDa</text>
<text class="s85" x="765" y="452.5" textLength="35" lengthAdjust="spacingAndGlyphs">-60 kDa</text>
<text class="s85" x="652.7" y="472">IP</text>
<text class="s85" x="608" y="478.7" textLength="55" lengthAdjust="spacingAndGlyphs">Ob-Rb siRNA</text>
<text class="s85" x="672" y="471.5" textLength="21" lengthAdjust="spacingAndGlyphs">Input</text>
<text class="s85" x="711" y="471.5">IgG</text>
<text class="s85" x="739" y="471.5" textLength="19" lengthAdjust="spacingAndGlyphs">p-Akt</text>
<path class="ul" d="M670,473.5H697M708,473.5H728M737,473.5H760"/>
<text class="m s85" x="675 689 711.7 725 741.7 756.7" y="482">-+-+-+</text>
<rect class="bl" x="667" y="483" width="98" height="7"/>
<rect class="bl" x="667" y="492" width="98" height="7"/>
<rect x="667.5" y="484" width="15" height="5" rx="1.5" fill="#1a1a1a"/>
<rect x="684" y="484.3" width="14" height="4.5" rx="1.5" fill="#222"/>
<rect x="733" y="484.8" width="15" height="3.6" rx="1.5" fill="#2a2a2a"/>
<rect x="750" y="484.8" width="14" height="3.6" rx="1.5" fill="#222"/>
<rect x="668.5" y="493.8" width="13" height="3.4" rx="1.5" fill="#2a2a2a"/>
<rect x="685" y="493.8" width="12" height="3.4" rx="1.5" fill="#333"/>
<rect x="733.5" y="493.8" width="14" height="3.4" rx="1.5" fill="#2a2a2a"/>
<rect x="750" y="493.8" width="13.5" height="3.4" rx="1.5" fill="#2a2a2a"/>
<text class="s85" x="628" y="489.5" textLength="39" lengthAdjust="spacingAndGlyphs">IB:p-Akt-</text>
<text class="s85" x="621" y="498.5" textLength="46" lengthAdjust="spacingAndGlyphs">p-STAT3-</text>
<text class="s85" x="765" y="489.5" textLength="35" lengthAdjust="spacingAndGlyphs">-60 kDa</text>
<text class="s85" x="765" y="498.5" textLength="35" lengthAdjust="spacingAndGlyphs">-86 kDa</text>

</svg>
</body></html>
